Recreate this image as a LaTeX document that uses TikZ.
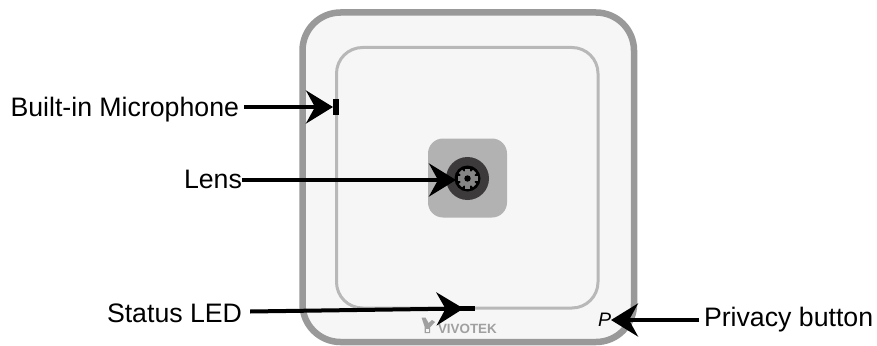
\documentclass[tikz,border=0pt]{standalone}
\usepackage{fontspec}
\setmainfont{Liberation Sans}
\usetikzlibrary{arrows.meta}
\definecolor{outerc}{HTML}{999999}
\definecolor{innerc}{HTML}{B8B8B8}
\definecolor{bodyc}{HTML}{F6F6F6}
\definecolor{lensbox}{HTML}{B2B2B2}
\definecolor{lensring}{HTML}{3C3A3A}
\definecolor{gearc}{HTML}{858585}
\definecolor{logoc}{HTML}{A0A0A0}
\tikzset{
  x=1pt,y=-1pt,
  lbl/.style={font=\fontsize{26.7}{30}\selectfont,text=black,inner sep=0pt,outer sep=0pt},
  conn/.style={line width=4pt,-{Stealth[length=27pt,width=33pt,inset=9pt]},shorten >=0pt},
  pt/.style={inner sep=0pt,outer sep=0pt,minimum size=0pt},
  barb/.style={fill=black,inner sep=0pt,outer sep=0pt}
}
\begin{document}
\begin{tikzpicture}
\useasboundingbox (0,0) rectangle (877,345);
\fill[white] (0,0) rectangle (877,345);
% body
\draw[outerc,fill=bodyc,line width=6.5pt,rounded corners=38pt] (302.5,12.5) rectangle (634,342);
\draw[innerc,line width=3pt,rounded corners=26pt] (336.5,47.5) rectangle (598,308);
% lens
\fill[lensbox,rounded corners=15pt] (428,138.5) rectangle (507,217.5);
\fill[lensring] (467.5,178.5) circle (21.5);
\fill[black] (467.5,178.5) circle (13);
\foreach \a in {0,45,...,315}{
  \fill[gearc,rotate around={\a:(467.5,178.5)}] (465.2,168.5) rectangle (469.8,174);
}
\fill[gearc] (467.5,178.5) circle (7.8);
\fill[black] (467.5,178.5) circle (3.2);
\node[pt] (lens) at (456,180) {};
% logo
\fill[logoc] (421.5,317.5) -- (425.5,317.5) -- (428.5,323) -- (432,320) -- (435,322) -- (430,327.5) -- (430,333) -- (424.5,333) -- (424.5,326.5) -- cycle;
\fill[bodyc] (426,329) rectangle (428.5,331.5);
\node[pt,text=logoc,font=\fontsize{13.4}{14}\selectfont\bfseries,anchor=base west] (logo) at (438,333) {VIVOTEK};
% parts
\node[barb,minimum width=6pt,minimum height=16pt] (mic) at (336,107) {};
\node[barb,minimum width=23pt,minimum height=5.5pt] (led) at (463.5,308.5) {};
\node[pt,font=\fontsize{19.5}{20}\selectfont\itshape,anchor=center] (pbtn) at (604.5,320) {P};
% labels
\node[lbl,anchor=base west] (micl) at (10.5,116) {Built-in Microphone};
\node[lbl,anchor=base west] (lensl) at (184,188) {Lens};
\node[lbl,anchor=base west] (ledl) at (107,322) {Status LED};
\node[lbl,anchor=base west] (privl) at (704,326) {Privacy button};
% connectors
\coordinate (a1) at (micl.east |- mic.west);
\draw[conn] ([xshift=5pt]a1) -- (mic.west);
\coordinate (a2) at (lensl.east |- lens);
\draw[conn] (a2) -- (lens);
\coordinate (a3) at ([xshift=8pt,yshift=-3pt]ledl.east |- led);
\draw[conn] (a3) -- (led.center);
\coordinate (a4) at ([xshift=-5pt]privl.west |- pbtn);
\draw[conn] (a4) -- (pbtn.east);
\end{tikzpicture}
\end{document}
